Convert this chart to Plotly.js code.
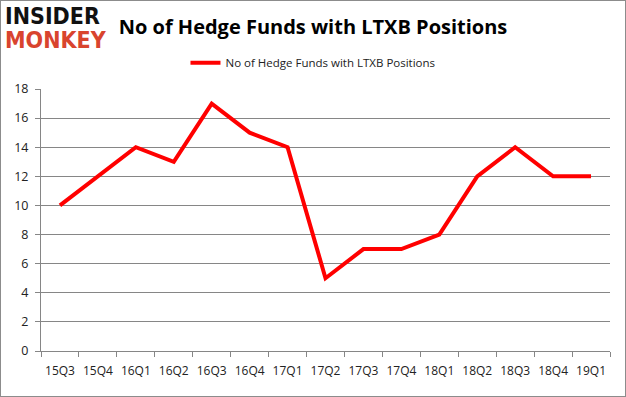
<!DOCTYPE html>
<html>
<head>
<meta charset="utf-8">
<script src="https://cdn.plot.ly/plotly-3.0.1.min.js"></script>
<style>
html,body{margin:0;padding:0;background:#fff;}
#chart{width:626px;height:397px;box-sizing:border-box;border:1px solid #8c8c8c;}
</style>
</head>
<body>
<div id="chart"></div>
<script>
const quarters = ["15Q3","15Q4","16Q1","16Q2","16Q3","16Q4","17Q1","17Q2","17Q3","17Q4","18Q1","18Q2","18Q3","18Q4","19Q1"];
const hedgeFunds = [10,12,14,13,17,15,14,5,7,7,8,12,14,12,12];
const yTicks = [0,2,4,6,8,10,12,14,16,18];
const seriesName = "No of Hedge Funds with LTXB Positions";
const chartTitle = "No of Hedge Funds with LTXB Positions";

const trace = {
  x: quarters,
  y: hedgeFunds,
  type: "scatter",
  mode: "lines",
  name: seriesName,
  line: {color: "#ff0000", width: 4},
  showlegend: true
};

const layout = {
  width: 624, height: 395,
  margin: {l: 40, r: 15, t: 88, b: 45},
  paper_bgcolor: "#fff",
  plot_bgcolor: "#fff",
  font: {family: "Open Sans, Liberation Sans, sans-serif", color: "#222"},
  title: {
    text: "<b>" + chartTitle + "</b>",
    font: {family: "Open Sans, Liberation Sans, sans-serif", size: 20, color: "#000"},
    x: 0.5, xref: "container", xanchor: "center",
    y: 0.935, yref: "container", yanchor: "middle"
  },
  showlegend: true,
  legend: {
    orientation: "h",
    x: 0.478, xanchor: "center", xref: "paper",
    y: 1.1, yanchor: "middle",
    font: {size: 11.5, color: "#222"},
    bgcolor: "rgba(0,0,0,0)"
  },
  xaxis: {
    type: "category",
    range: [-0.5, quarters.length - 0.5],
    tickson: "boundaries",
    ticks: "outside",
    ticklen: 5,
    tickcolor: "#868686",
    showline: true,
    linecolor: "#868686",
    linewidth: 1,
    showgrid: false,
    tickangle: 0,
    ticklabelstandoff: 9,
    tickfont: {size: 12, color: "#222"},
    fixedrange: true
  },
  yaxis: {
    range: [0, 18],
    tickvals: yTicks,
    ticks: "outside",
    ticklen: 5,
    tickcolor: "#868686",
    showline: true,
    linecolor: "#868686",
    linewidth: 1,
    showgrid: true,
    gridcolor: "#868686",
    gridwidth: 1,
    zeroline: false,
    ticklabelstandoff: 4,
    tickfont: {size: 12.5, color: "#222"},
    fixedrange: true
  },
  annotations: [
    {text: "<b>INSIDER</b>", xref: "paper", yref: "paper", x: -0.067, y: 1.279, xanchor: "left", yanchor: "middle",
     showarrow: false, font: {family: "DejaVu Sans Condensed, DejaVu Sans, sans-serif", size: 23, color: "#111"}},
    {text: "<b>MONKEY</b>", xref: "paper", yref: "paper", x: -0.067, y: 1.187, xanchor: "left", yanchor: "middle",
     showarrow: false, font: {family: "DejaVu Sans Condensed, DejaVu Sans, sans-serif", size: 23, color: "#d9442e"}}
  ]
};

Plotly.newPlot("chart", [trace], layout, {displayModeBar: false, staticPlot: true});
</script>
</body>
</html>
